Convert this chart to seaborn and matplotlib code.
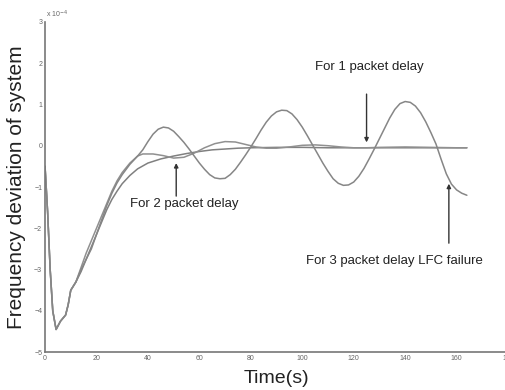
import numpy as np
import pandas as pd
import seaborn as sns
import matplotlib.pyplot as plt

# ==========================================
# DATA (frequency deviation, units of 1e-4)
# ==========================================

t_start = [0, 1, 2, 3, 4.3, 6, 8, 9, 10, 12]
y_start = [-0.5, -1.6, -3.0, -4.0, -4.45, -4.25, -4.1, -3.85, -3.5, -3.3]

t_one = [14, 16, 18, 20, 22, 24, 26, 28, 30, 33, 36, 40, 45, 50, 55, 60,
         65, 70, 75, 80, 90, 100, 110, 120, 130, 140, 150, 160, 164]
y_one = [-3.05, -2.75, -2.45, -2.15, -1.85, -1.55, -1.3, -1.1, -0.92, -0.72,
         -0.56, -0.42, -0.32, -0.25, -0.19, -0.14, -0.1, -0.08, -0.06, -0.05,
         -0.04, -0.04, -0.05, -0.05, -0.05, -0.05, -0.05, -0.05, -0.05]

t_two = [14, 16, 18, 20, 22, 24, 26, 28, 30, 33, 36, 38, 42, 46, 50, 54, 58,
         62, 66, 70, 74, 78, 82, 86, 90, 95, 100, 105, 110, 115, 120, 125,
         130, 140, 150, 160, 164]
y_two = [-2.95, -2.6, -2.3, -2.0, -1.7, -1.4, -1.1, -0.85, -0.65, -0.42,
         -0.25, -0.2, -0.2, -0.24, -0.3, -0.28, -0.18, -0.05, 0.05, 0.1, 0.09,
         0.03, -0.03, -0.06, -0.06, -0.03, 0.01, 0.02, 0.0, -0.03, -0.05,
         -0.05, -0.04, -0.03, -0.04, -0.05, -0.05]

t_three = [14, 16, 18, 20, 22, 24, 26, 28, 30, 33, 36, 38, 40, 42, 44, 46,
           48, 50, 52, 54, 56, 58, 60, 62, 64, 66, 68, 70, 72, 74, 76, 78,
           80, 82, 84, 86, 88, 90, 92, 94, 96, 98, 100, 102, 104, 106, 108,
           110, 112, 114, 116, 118, 120, 122, 124, 126, 128, 130, 132, 134,
           136, 138, 140, 142, 144, 146, 148, 150, 152, 154, 156, 158, 160,
           162, 164]
y_three = [-3.0, -2.75, -2.5, -2.15, -1.8, -1.45, -1.15, -0.9, -0.7, -0.45,
           -0.25, -0.1, 0.1, 0.28, 0.4, 0.45, 0.43, 0.35, 0.22, 0.08, -0.08,
           -0.25, -0.42, -0.57, -0.7, -0.78, -0.8, -0.79, -0.7, -0.57, -0.4,
           -0.22, -0.03, 0.17, 0.38, 0.57, 0.72, 0.82, 0.86, 0.85, 0.77, 0.63,
           0.45, 0.24, 0.02, -0.2, -0.42, -0.62, -0.8, -0.91, -0.96, -0.95,
           -0.88, -0.74, -0.55, -0.32, -0.08, 0.17, 0.42, 0.67, 0.88, 1.02,
           1.07, 1.05, 0.96, 0.8, 0.58, 0.32, 0.04, -0.33, -0.68, -0.93,
           -1.07, -1.15, -1.2]

x_ticks = [0, 20, 40, 60, 80, 100, 120, 140, 160, 180]
y_ticks = [-5, -4, -3, -2, -1, 0, 1, 2, 3]

# ==========================================
# LONG TABLE FOR SEABORN
# ==========================================

frames = []
for name, tt, yy in [("1 packet", t_one, y_one),
                     ("2 packet", t_two, y_two),
                     ("3 packet", t_three, y_three)]:
    frames.append(pd.DataFrame({
        "Time": t_start + tt,
        "Deviation": y_start + yy,
        "Case": name
    }))
df = pd.concat(frames, ignore_index=True)

# ==========================================
# PLOT
# ==========================================

sns.set_style("white")
plt.rcParams["font.family"] = ["Liberation Sans", "DejaVu Sans"]

fig = plt.figure(figsize=(5.06, 3.9), dpi=100)
ax = fig.add_axes([0.089, 0.097, 0.915, 0.847])

sns.lineplot(
    data=df,
    x="Time",
    y="Deviation",
    hue="Case",
    palette=["#808080", "#909090", "#868686"],
    linewidth=1.1,
    sort=False,
    legend=False,
    ax=ax
)

ax.set_xlim(0, 180)
ax.set_ylim(-5, 3)
ax.set_xticks(x_ticks)
ax.set_yticks(y_ticks)
ax.tick_params(direction="in", length=3, width=0.8, labelsize=5,
               colors="#666666", pad=2)

sns.despine(ax=ax)
for side in ["left", "bottom"]:
    ax.spines[side].set_color("#777777")
    ax.spines[side].set_linewidth(1.2)

ax.set_xlabel("Time(s)", fontsize=14, color="#222222", labelpad=6)
ax.set_ylabel("Frequency deviation of system", fontsize=15,
              color="#222222", labelpad=6)

ax.text(0.5, 3.05, r"x 10$^{-4}$", fontsize=5, color="#666666",
        ha="left", va="bottom")

# ==========================================
# ANNOTATIONS
# ==========================================

arrow = dict(arrowstyle="-|>", color="#333333", lw=1.0,
             mutation_scale=6, shrinkA=0, shrinkB=0)

ax.annotate("", xy=(125, 0.08), xytext=(125, 1.25), arrowprops=arrow)
ax.text(126, 1.9, "For 1 packet delay", fontsize=9.5, color="#222222",
        ha="center", va="center")

ax.annotate("", xy=(51, -0.42), xytext=(51, -1.22), arrowprops=arrow)
ax.text(54, -1.42, "For 2 packet delay", fontsize=9.5, color="#222222",
        ha="center", va="center")

ax.annotate("", xy=(157, -0.92), xytext=(157, -2.36), arrowprops=arrow)
ax.text(136, -2.8, "For 3 packet delay LFC failure", fontsize=9.5,
        color="#222222", ha="center", va="center")

plt.savefig("out.png", dpi=100)
